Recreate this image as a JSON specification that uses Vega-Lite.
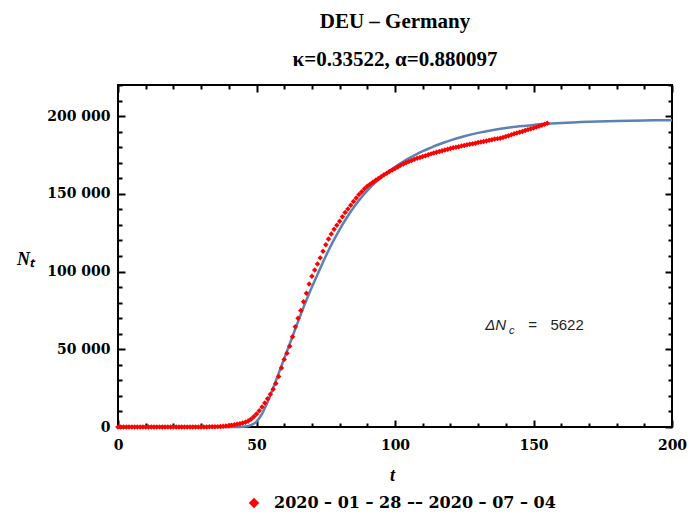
{
  "$schema": "https://vega.github.io/schema/vega-lite/v6.json",
  "width": 554,
  "height": 342,
  "autosize": "none",
  "padding": {"left": 118, "top": 85, "right": 17, "bottom": 88},
  "background": "white",
  "title": {
    "text": ["DEU – Germany", "κ=0.33522, α=0.880097"],
    "font": "Liberation Serif",
    "fontSize": 21,
    "fontWeight": "bold",
    "color": "black",
    "lineHeight": 38,
    "baseline": "bottom",
    "offset": -4,
    "dy": 3,
    "anchor": "middle"
  },
  "datasets": {
    "fit": [
      {"t": 0, "N": 0}, {"t": 44, "N": 0}, {"t": 46, "N": 300}, {"t": 48, "N": 1200}, {"t": 50, "N": 3500},
      {"t": 52, "N": 8500}, {"t": 54, "N": 16000}, {"t": 56, "N": 25000}, {"t": 58, "N": 34500}, {"t": 60, "N": 44000},
      {"t": 62, "N": 53500}, {"t": 64, "N": 63000}, {"t": 66, "N": 72500}, {"t": 68, "N": 81500}, {"t": 70, "N": 90000},
      {"t": 72, "N": 98000}, {"t": 74, "N": 106000}, {"t": 76, "N": 113500}, {"t": 78, "N": 120500}, {"t": 80, "N": 127000},
      {"t": 82, "N": 133000}, {"t": 84, "N": 138500}, {"t": 86, "N": 143500}, {"t": 88, "N": 148000}, {"t": 90, "N": 152000},
      {"t": 92, "N": 155700}, {"t": 94, "N": 159000}, {"t": 96, "N": 162000}, {"t": 98, "N": 164800}, {"t": 100, "N": 167300},
      {"t": 102, "N": 169600}, {"t": 104, "N": 171800}, {"t": 106, "N": 173800}, {"t": 108, "N": 175700}, {"t": 110, "N": 177400},
      {"t": 112, "N": 179000}, {"t": 114, "N": 180500}, {"t": 116, "N": 181900}, {"t": 118, "N": 183200}, {"t": 120, "N": 184400},
      {"t": 125, "N": 187000}, {"t": 130, "N": 189200}, {"t": 135, "N": 190900}, {"t": 140, "N": 192300}, {"t": 145, "N": 193400},
      {"t": 150, "N": 194300}, {"t": 155, "N": 195000}, {"t": 160, "N": 195600}, {"t": 170, "N": 196400}, {"t": 180, "N": 196900},
      {"t": 190, "N": 197200}, {"t": 200, "N": 197400}
    ],
    "obs": [
      {"t": 0, "N": 4}, {"t": 1, "N": 4}, {"t": 2, "N": 4}, {"t": 3, "N": 5}, {"t": 4, "N": 5}, {"t": 5, "N": 7},
      {"t": 6, "N": 8}, {"t": 7, "N": 10}, {"t": 8, "N": 12}, {"t": 9, "N": 12}, {"t": 10, "N": 12}, {"t": 11, "N": 12},
      {"t": 12, "N": 12}, {"t": 13, "N": 13}, {"t": 14, "N": 13}, {"t": 15, "N": 14}, {"t": 16, "N": 14}, {"t": 17, "N": 16},
      {"t": 18, "N": 16}, {"t": 19, "N": 16}, {"t": 20, "N": 16}, {"t": 21, "N": 16}, {"t": 22, "N": 16}, {"t": 23, "N": 16},
      {"t": 24, "N": 16}, {"t": 25, "N": 16}, {"t": 26, "N": 16}, {"t": 27, "N": 16}, {"t": 28, "N": 18}, {"t": 29, "N": 21},
      {"t": 30, "N": 26}, {"t": 31, "N": 53}, {"t": 32, "N": 66}, {"t": 33, "N": 117}, {"t": 34, "N": 150}, {"t": 35, "N": 188},
      {"t": 36, "N": 240}, {"t": 37, "N": 349}, {"t": 38, "N": 534}, {"t": 39, "N": 684}, {"t": 40, "N": 847}, {"t": 41, "N": 1112},
      {"t": 42, "N": 1400}, {"t": 43, "N": 1700}, {"t": 44, "N": 2100}, {"t": 45, "N": 2600}, {"t": 46, "N": 3100}, {"t": 47, "N": 3900},
      {"t": 48, "N": 5000}, {"t": 49, "N": 6600}, {"t": 50, "N": 8400}, {"t": 51, "N": 10500}, {"t": 52, "N": 12900}, {"t": 53, "N": 15500},
      {"t": 54, "N": 18200}, {"t": 55, "N": 21000}, {"t": 56, "N": 24300}, {"t": 57, "N": 28000}, {"t": 58, "N": 32500}, {"t": 59, "N": 38000},
      {"t": 60, "N": 43500}, {"t": 61, "N": 47500}, {"t": 62, "N": 52000}, {"t": 63, "N": 58000}, {"t": 64, "N": 64500}, {"t": 65, "N": 70000},
      {"t": 66, "N": 75000}, {"t": 67, "N": 80500}, {"t": 68, "N": 86000}, {"t": 69, "N": 92000}, {"t": 70, "N": 97000}, {"t": 71, "N": 101000},
      {"t": 72, "N": 104800}, {"t": 73, "N": 108800}, {"t": 74, "N": 113000}, {"t": 75, "N": 117200}, {"t": 76, "N": 121000}, {"t": 77, "N": 124200},
      {"t": 78, "N": 127200}, {"t": 79, "N": 129800}, {"t": 80, "N": 132300}, {"t": 81, "N": 135300}, {"t": 82, "N": 138000}, {"t": 83, "N": 140300},
      {"t": 84, "N": 142600}, {"t": 85, "N": 145000}, {"t": 86, "N": 147300}, {"t": 87, "N": 149500}, {"t": 88, "N": 151400}, {"t": 89, "N": 153200},
      {"t": 90, "N": 154800}, {"t": 91, "N": 156200}, {"t": 92, "N": 157500}, {"t": 93, "N": 158700}, {"t": 94, "N": 159900}, {"t": 95, "N": 161000},
      {"t": 96, "N": 162200}, {"t": 97, "N": 163300}, {"t": 98, "N": 164300}, {"t": 99, "N": 165300}, {"t": 100, "N": 166300}, {"t": 101, "N": 167300},
      {"t": 102, "N": 168300}, {"t": 103, "N": 169200}, {"t": 104, "N": 170000}, {"t": 105, "N": 170800}, {"t": 106, "N": 171500}, {"t": 107, "N": 172200},
      {"t": 108, "N": 172900}, {"t": 109, "N": 173400}, {"t": 110, "N": 174000}, {"t": 111, "N": 174500}, {"t": 112, "N": 175100}, {"t": 113, "N": 175700},
      {"t": 114, "N": 176200}, {"t": 115, "N": 176700}, {"t": 116, "N": 177200}, {"t": 117, "N": 177700}, {"t": 118, "N": 178200}, {"t": 119, "N": 178700},
      {"t": 120, "N": 179200}, {"t": 121, "N": 179600}, {"t": 122, "N": 179900}, {"t": 123, "N": 180300}, {"t": 124, "N": 180700}, {"t": 125, "N": 181100},
      {"t": 126, "N": 181500}, {"t": 127, "N": 181900}, {"t": 128, "N": 182200}, {"t": 129, "N": 182600}, {"t": 130, "N": 183000}, {"t": 131, "N": 183300},
      {"t": 132, "N": 183700}, {"t": 133, "N": 184000}, {"t": 134, "N": 184400}, {"t": 135, "N": 184800}, {"t": 136, "N": 185200}, {"t": 137, "N": 185500},
      {"t": 138, "N": 185800}, {"t": 139, "N": 186300}, {"t": 140, "N": 186800}, {"t": 141, "N": 187400}, {"t": 142, "N": 188000}, {"t": 143, "N": 188600},
      {"t": 144, "N": 189100}, {"t": 145, "N": 189600}, {"t": 146, "N": 190100}, {"t": 147, "N": 190700}, {"t": 148, "N": 191300}, {"t": 149, "N": 191800},
      {"t": 150, "N": 192300}, {"t": 151, "N": 192900}, {"t": 152, "N": 193500}, {"t": 153, "N": 194100}, {"t": 154, "N": 194700}, {"t": 155, "N": 195400}
    ]
  },
  "layer": [
    {
      "data": {"name": "fit"},
      "mark": {"type": "line", "color": "#5E81B5", "strokeWidth": 2.5, "interpolate": "monotone"},
      "encoding": {
        "x": {
          "field": "t", "type": "quantitative",
          "scale": {"domain": [0, 200], "nice": false, "zero": false},
          "axis": {
            "orient": "bottom",
            "values": [0, 10, 20, 30, 40, 50, 60, 70, 80, 90, 100, 110, 120, 130, 140, 150, 160, 170, 180, 190, 200],
            "tickSize": {"condition": {"test": "datum.value % 50 === 0", "value": -7}, "value": -4},
            "labelExpr": "datum.value % 50 === 0 ? datum.label : ''",
            "labelPadding": 18,
            "labelBaseline": "top",
            "labelFlush": false,
            "title": "t",
            "titleX": 274,
            "titleY": 48,
            "titleBaseline": "middle",
            "titleAlign": "center"
          }
        },
        "y": {
          "field": "N", "type": "quantitative",
          "scale": {"domain": [0, 220000], "nice": false},
          "axis": {
            "orient": "left",
            "values": [0, 10000, 20000, 30000, 40000, 50000, 60000, 70000, 80000, 90000, 100000, 110000, 120000, 130000, 140000, 150000, 160000, 170000, 180000, 190000, 200000, 210000, 220000],
            "format": ",d",
            "tickSize": {"condition": {"test": "datum.value % 50000 === 0", "value": -7}, "value": -4},
            "labelExpr": "datum.value % 50000 === 0 ? replace(datum.label, ',', ' ') : ''",
            "labelPadding": 15,
            "labelFlush": false,
            "title": "Nₜ",
            "titleAngle": 0,
            "titleX": -93,
            "titleY": 174,
            "titleAlign": "center",
            "titleBaseline": "middle"
          }
        }
      }
    },
    {
      "data": {"name": "obs"},
      "mark": {"type": "point", "shape": "diamond", "filled": true, "size": 30, "opacity": 1},
      "encoding": {
        "x": {
          "field": "t", "type": "quantitative",
          "scale": {"domain": [0, 200], "nice": false, "zero": false},
          "axis": {
            "orient": "top",
            "values": [0, 10, 20, 30, 40, 50, 60, 70, 80, 90, 100, 110, 120, 130, 140, 150, 160, 170, 180, 190, 200],
            "tickSize": {"condition": {"test": "datum.value % 50 === 0", "value": -7}, "value": -4},
            "labels": false,
            "title": null
          }
        },
        "y": {
          "field": "N", "type": "quantitative",
          "scale": {"domain": [0, 220000], "nice": false},
          "axis": {
            "orient": "right",
            "values": [0, 10000, 20000, 30000, 40000, 50000, 60000, 70000, 80000, 90000, 100000, 110000, 120000, 130000, 140000, 150000, 160000, 170000, 180000, 190000, 200000, 210000, 220000],
            "tickSize": {"condition": {"test": "datum.value % 50000 === 0", "value": -7}, "value": -4},
            "labels": false,
            "title": null
          }
        },
        "color": {
          "datum": "2020 – 01 – 28  ––  2020 – 07 – 04",
          "type": "nominal",
          "scale": {"range": ["#ff0000"]},
          "legend": {
            "orient": "none",
            "legendX": 128,
            "legendY": 410,
            "title": null,
            "symbolType": "diamond",
            "symbolSize": 110,
            "labelOffset": 12
          }
        }
      }
    },
    {
      "data": {"values": [{}]},
      "mark": {"type": "text", "font": "Liberation Sans", "fontStyle": "italic", "fontSize": 15, "align": "left", "baseline": "alphabetic", "color": "#222222"},
      "encoding": {
        "x": {"datum": 132.6, "type": "quantitative", "scale": {"domain": [0, 200], "nice": false, "zero": false}, "axis": null},
        "y": {"datum": 62400, "type": "quantitative", "scale": {"domain": [0, 220000], "nice": false}, "axis": null},
        "text": {"value": "ΔN"}
      }
    },
    {
      "data": {"values": [{}]},
      "mark": {"type": "text", "font": "Liberation Sans", "fontStyle": "italic", "fontSize": 11, "align": "left", "baseline": "alphabetic", "color": "#222222"},
      "encoding": {
        "x": {"datum": 141.2, "type": "quantitative", "scale": {"domain": [0, 200], "nice": false, "zero": false}, "axis": null},
        "y": {"datum": 59600, "type": "quantitative", "scale": {"domain": [0, 220000], "nice": false}, "axis": null},
        "text": {"value": "c"}
      }
    },
    {
      "data": {"values": [{}]},
      "mark": {"type": "text", "font": "Liberation Sans", "fontSize": 15, "align": "left", "baseline": "alphabetic", "color": "#222222"},
      "encoding": {
        "x": {"datum": 148.1, "type": "quantitative", "scale": {"domain": [0, 200], "nice": false, "zero": false}, "axis": null},
        "y": {"datum": 62400, "type": "quantitative", "scale": {"domain": [0, 220000], "nice": false}, "axis": null},
        "text": {"value": "="}
      }
    },
    {
      "data": {"values": [{}]},
      "mark": {"type": "text", "font": "Liberation Sans", "fontSize": 15, "align": "left", "baseline": "alphabetic", "color": "#222222"},
      "encoding": {
        "x": {"datum": 156.1, "type": "quantitative", "scale": {"domain": [0, 200], "nice": false, "zero": false}, "axis": null},
        "y": {"datum": 62400, "type": "quantitative", "scale": {"domain": [0, 220000], "nice": false}, "axis": null},
        "text": {"value": "5622"}
      }
    }
  ],
  "resolve": {"axis": {"x": "independent", "y": "independent"}},
  "config": {
    "view": {"stroke": "black", "strokeWidth": 2},
    "axis": {
      "domain": false,
      "grid": false,
      "labelFont": "DejaVu Serif",
      "labelFontWeight": "bold",
      "labelFontSize": 14,
      "labelColor": "black",
      "tickColor": "black",
      "tickWidth": 2,
      "titleFont": "Liberation Serif",
      "titleFontStyle": "italic",
      "titleFontWeight": "bold",
      "titleFontSize": 18,
      "titleColor": "black"
    },
    "legend": {
      "labelFont": "DejaVu Serif",
      "labelFontWeight": "bold",
      "labelFontSize": 16,
      "labelColor": "black",
      "labelLimit": 400,
      "padding": 0
    }
  }
}
